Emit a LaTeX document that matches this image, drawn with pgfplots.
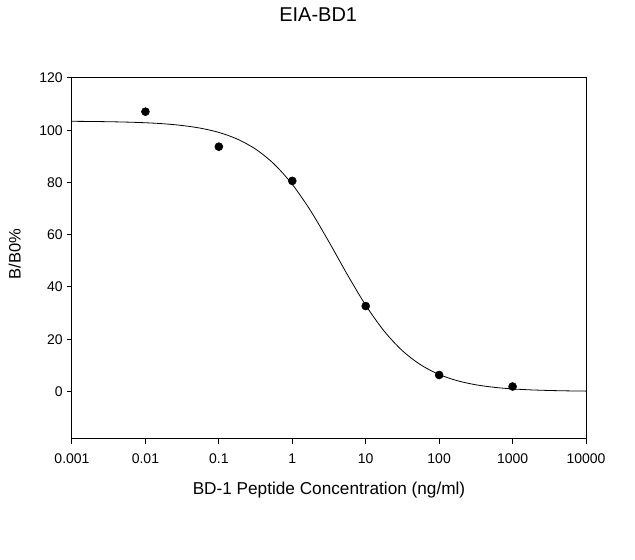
\documentclass[border=0pt]{standalone}
\usepackage{pgfplots}
\pgfplotsset{compat=1.18}
\usepackage{fontspec}
\setmainfont{Liberation Sans}

\begin{document}
\begin{tikzpicture}
    \begin{axis}[
            name=ax,
            scale only axis,
            width=385.5pt,
            height=270.4pt,
            xmode=log,
            xmin=0.001, xmax=10000,
            ymin=-18, ymax=120,
            xtick={0.001,0.01,0.1,1,10,100,1000,10000},
            xticklabels={0.001,0.01,0.1,1,10,100,1000,10000},
            ytick={0,20,40,60,80,100,120},
            xminorticks=false,
            yminorticks=false,
            tick pos=left,
            tick align=outside,
            major tick length=3.75pt,
            axis line style={line width=0.75pt},
            every tick/.style={line width=0.75pt, black},
            /pgf/number format/assume math mode=true,
            tick label style={font=\fontsize{10.5}{12}\selectfont},
            xticklabel style={inner sep=0pt, anchor=north, yshift=-7.5pt},
            yticklabel style={inner sep=0pt, anchor=east, xshift=-3pt},
            title={EIA-BD1},
            title style={font=\fontsize{15}{18}\selectfont, at={(rel axis cs:0.479,1.134)}, anchor=base, inner sep=0pt},
            xlabel={BD-1 Peptide Concentration (ng/ml)},
            xlabel style={font=\fontsize{12.9}{15}\selectfont, at={(rel axis cs:0.5,-0.154)}, anchor=base, inner sep=0pt},
            ylabel={B/B0\%},
            ylabel style={font=\fontsize{12.4}{15}\selectfont, at={(rel axis cs:-0.0999,0.512)}, anchor=base, inner sep=0pt},
            clip=false,
        ]
        % fitted curve
        \addplot[black, line width=0.6pt, smooth] coordinates {
                (0.001,103.41) (0.001778,103.35) (0.003162,103.25) (0.005623,103.10)
                (0.01,102.86) (0.01778,102.46) (0.03162,101.81) (0.05623,100.78)
                (0.1,99.16) (0.1778,96.62) (0.3162,92.77) (0.5623,87.11)
                (1,79.26) (1.778,69.14) (3.162,57.24) (5.623,44.73)
                (10,33.01) (17.78,23.15) (31.62,15.58) (56.23,10.17)
                (100,6.50) (177.8,4.10) (316.2,2.56) (562.3,1.59)
                (1000,0.98) (1778,0.61) (3162,0.38) (5623,0.23) (10000,0.14)
            };
        % measured points
        \addplot[black, only marks, mark=*, mark size=3pt] coordinates {
                (0.01,107.1) (0.1,93.7) (1,80.6) (10,32.7) (100,6.3) (1000,1.9)
            };
        \coordinate (sw) at (rel axis cs:0,0);
    \end{axis}
    \pgfresetboundingbox
    \path ([shift={(-54pt,-91.125pt)}]sw) rectangle ++(476.25pt,420pt);
\end{tikzpicture}
\end{document}
